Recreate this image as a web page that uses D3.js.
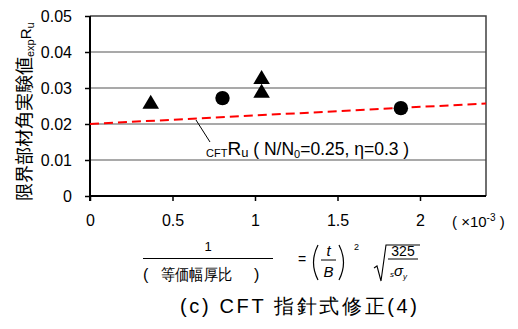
<!DOCTYPE html>
<html><head><meta charset="utf-8">
<script src="https://cdn.jsdelivr.net/npm/d3@7"></script>
<style>body{margin:0;background:#fff}svg{display:block}text{font-family:Arial,"Liberation Sans",sans-serif}</style>
</head><body><svg id="c" width="518" height="329"></svg>
<script>
const xTicks = [0, 0.5, 1, 1.5, 2];
const yTicks = [0, 0.01, 0.02, 0.03, 0.04, 0.05];
const triX = [0.368, 1.040, 1.040];
const triY = [0.0255, 0.0324, 0.0286];
const circX = [0.803, 1.884];
const circY = [0.0272, 0.0244];
const lineX = [0, 2.4];
const lineY = [0.0200, 0.0257];

const svg = d3.select("#c");
const x = d3.scaleLinear().domain([0, 2.4]).range([90, 486]);
const y = d3.scaleLinear().domain([0, 0.05]).range([196, 16]);
const CJK = "'Noto Sans CJK JP', sans-serif";

// gridlines
svg.append("g").selectAll("line").data(yTicks.filter(d => d > 0 && d < 0.05)).join("line")
  .attr("x1", 90).attr("x2", 486).attr("y1", d => y(d)).attr("y2", d => y(d))
  .attr("stroke", "#8c8c8c").attr("stroke-width", 1.5);
// top/right frame
svg.append("path").attr("d", `M90,${y(0.05)}H486V196`).attr("fill", "none").attr("stroke", "#404040").attr("stroke-width", 1.5);

// axes
const ya = d3.axisLeft(y).tickValues(yTicks).tickFormat(d => d === 0 ? "0" : d3.format(".2f")(d)).tickSize(5).tickPadding(13);
const gy = svg.append("g").attr("transform", "translate(90,0)").call(ya);
const xa = d3.axisBottom(x).tickValues(xTicks).tickFormat(d => String(d)).tickSize(5).tickPadding(14);
const gx = svg.append("g").attr("transform", "translate(0,196)").call(xa);
[gy, gx].forEach(g => {
  g.select(".domain").attr("stroke", "#000").attr("stroke-width", 2);
  g.selectAll(".tick line").attr("stroke", "#000").attr("stroke-width", 1.5);
  g.selectAll("text").attr("font-size", 16).attr("fill", "#000").attr("font-family", "Arial, 'Liberation Sans', sans-serif");
});
gx.select(".domain").attr("d", "M90,0H486");
gy.select(".domain").attr("d", `M0,${y(0) + 5}V${y(0.05)}`);

// dashed line
svg.append("line").attr("x1", x(lineX[0])).attr("y1", y(lineY[0])).attr("x2", x(lineX[1])).attr("y2", y(lineY[1]))
  .attr("stroke", "#ff0000").attr("stroke-width", 2).attr("stroke-dasharray", "9,5");

// markers
const triSym = { draw(ctx, size) { const w = 8.3, h = 14; ctx.moveTo(0, -2 * h / 3); ctx.lineTo(w, h / 3); ctx.lineTo(-w, h / 3); ctx.closePath(); } };
const tri = d3.symbol().type(triSym);
svg.append("g").selectAll("path").data(triX.map((d, i) => [d, triY[i]])).join("path")
  .attr("d", tri).attr("transform", d => `translate(${x(d[0])},${y(d[1])})`).attr("fill", "#000");
svg.append("g").selectAll("circle").data(circX.map((d, i) => [d, circY[i]])).join("circle")
  .attr("cx", d => x(d[0])).attr("cy", d => y(d[1])).attr("r", 7.2).attr("fill", "#000");

// annotation
svg.append("line").attr("x1", 196).attr("y1", 120).attr("x2", 210).attr("y2", 142).attr("stroke", "#000").attr("stroke-width", 1);
const an = svg.append("text").attr("x", 206).attr("y", 155).attr("fill", "#000");
an.append("tspan").text("CFT").attr("font-size", 11).attr("dy", 2);
an.append("tspan").text("R").attr("dy", -2).attr("font-size", 19);
an.append("tspan").text("u").attr("font-size", 13).attr("dy", 2);
an.append("tspan").text(" ( N/N").attr("dy", -2).attr("font-size", 17.5);
an.append("tspan").text("0").attr("font-size", 11).attr("dy", 3);
an.append("tspan").text("=0.25, η=0.3 )").attr("dy", -3).attr("font-size", 17.5);

// y label
const yl = svg.append("text").attr("transform", "translate(31,201) rotate(-90)").attr("font-size", 18).attr("fill", "#000");
yl.append("tspan").text("限界部材角実験値").attr("font-family", CJK);
yl.append("tspan").text("exp").attr("font-size", 11).attr("dy", 3);
yl.append("tspan").text("R").attr("dy", -3).attr("font-size", 15);
yl.append("tspan").text("u").attr("font-size", 11).attr("dy", 3);

// x10^-3
const ex = svg.append("text").attr("x", 452).attr("y", 227).attr("font-size", 15).attr("fill", "#000");
ex.append("tspan").text("( ×10");
ex.append("tspan").text("-3").attr("font-size", 10).attr("dy", -6);
ex.append("tspan").text(" )").attr("dy", 6);

// x label formula
svg.append("text").attr("x", 208).attr("y", 251).attr("text-anchor", "middle").attr("font-size", 13).text("1");
svg.append("line").attr("x1", 143).attr("x2", 273).attr("y1", 258.5).attr("y2", 258.5).attr("stroke", "#000").attr("stroke-width", 1);
svg.append("text").attr("x", 143).attr("y", 280).attr("font-size", 16).attr("font-family", CJK).text("(");
svg.append("text").attr("x", 161).attr("y", 280).attr("font-size", 15.5).attr("font-family", CJK)
  .attr("textLength", 71).attr("lengthAdjust", "spacingAndGlyphs").text("等価幅厚比");
svg.append("text").attr("x", 254).attr("y", 280).attr("font-size", 16).attr("font-family", CJK).text(")");
svg.append("text").attr("x", 302).attr("y", 264).attr("text-anchor", "middle").attr("font-size", 14).text("=");
// parens
svg.append("path").attr("d", "M318,245 Q309,262.5 318,280").attr("fill", "none").attr("stroke", "#000").attr("stroke-width", 1.2);
svg.append("path").attr("d", "M339,245 Q348,262.5 339,280").attr("fill", "none").attr("stroke", "#000").attr("stroke-width", 1.2);
svg.append("text").attr("x", 328.5).attr("y", 256).attr("text-anchor", "middle").attr("font-size", 15).attr("font-style", "italic").text("t");
svg.append("line").attr("x1", 321).attr("x2", 336).attr("y1", 260).attr("y2", 260).attr("stroke", "#000").attr("stroke-width", 1);
svg.append("text").attr("x", 328.5).attr("y", 277).attr("text-anchor", "middle").attr("font-size", 15).attr("font-style", "italic").text("B");
svg.append("text").attr("x", 354).attr("y", 250).attr("font-size", 9).text("2");
// sqrt
svg.append("path").attr("d", "M374,268 L377,266 L381,281 L386,245 H420").attr("fill", "none").attr("stroke", "#000").attr("stroke-width", 1.1);
svg.append("text").attr("x", 403).attr("y", 256).attr("text-anchor", "middle").attr("font-size", 14).text("325");
svg.append("line").attr("x1", 388).attr("x2", 418).attr("y1", 259).attr("y2", 259).attr("stroke", "#000").attr("stroke-width", 1);
const sg = svg.append("text").attr("x", 390).attr("y", 276).attr("font-size", 15).attr("font-style", "italic");
sg.append("tspan").text("s").attr("font-size", 8).attr("dy", 1);
sg.append("tspan").text("σ").attr("dy", -1);
sg.append("tspan").text("y").attr("font-size", 8).attr("dy", 3);

// caption
svg.append("text").attr("x", 180).attr("y", 313).attr("font-size", 20)
  .attr("font-family", CJK).attr("textLength", 237).attr("lengthAdjust", "spacing").text("(c) CFT 指針式修正(4)");
</script></body></html>
